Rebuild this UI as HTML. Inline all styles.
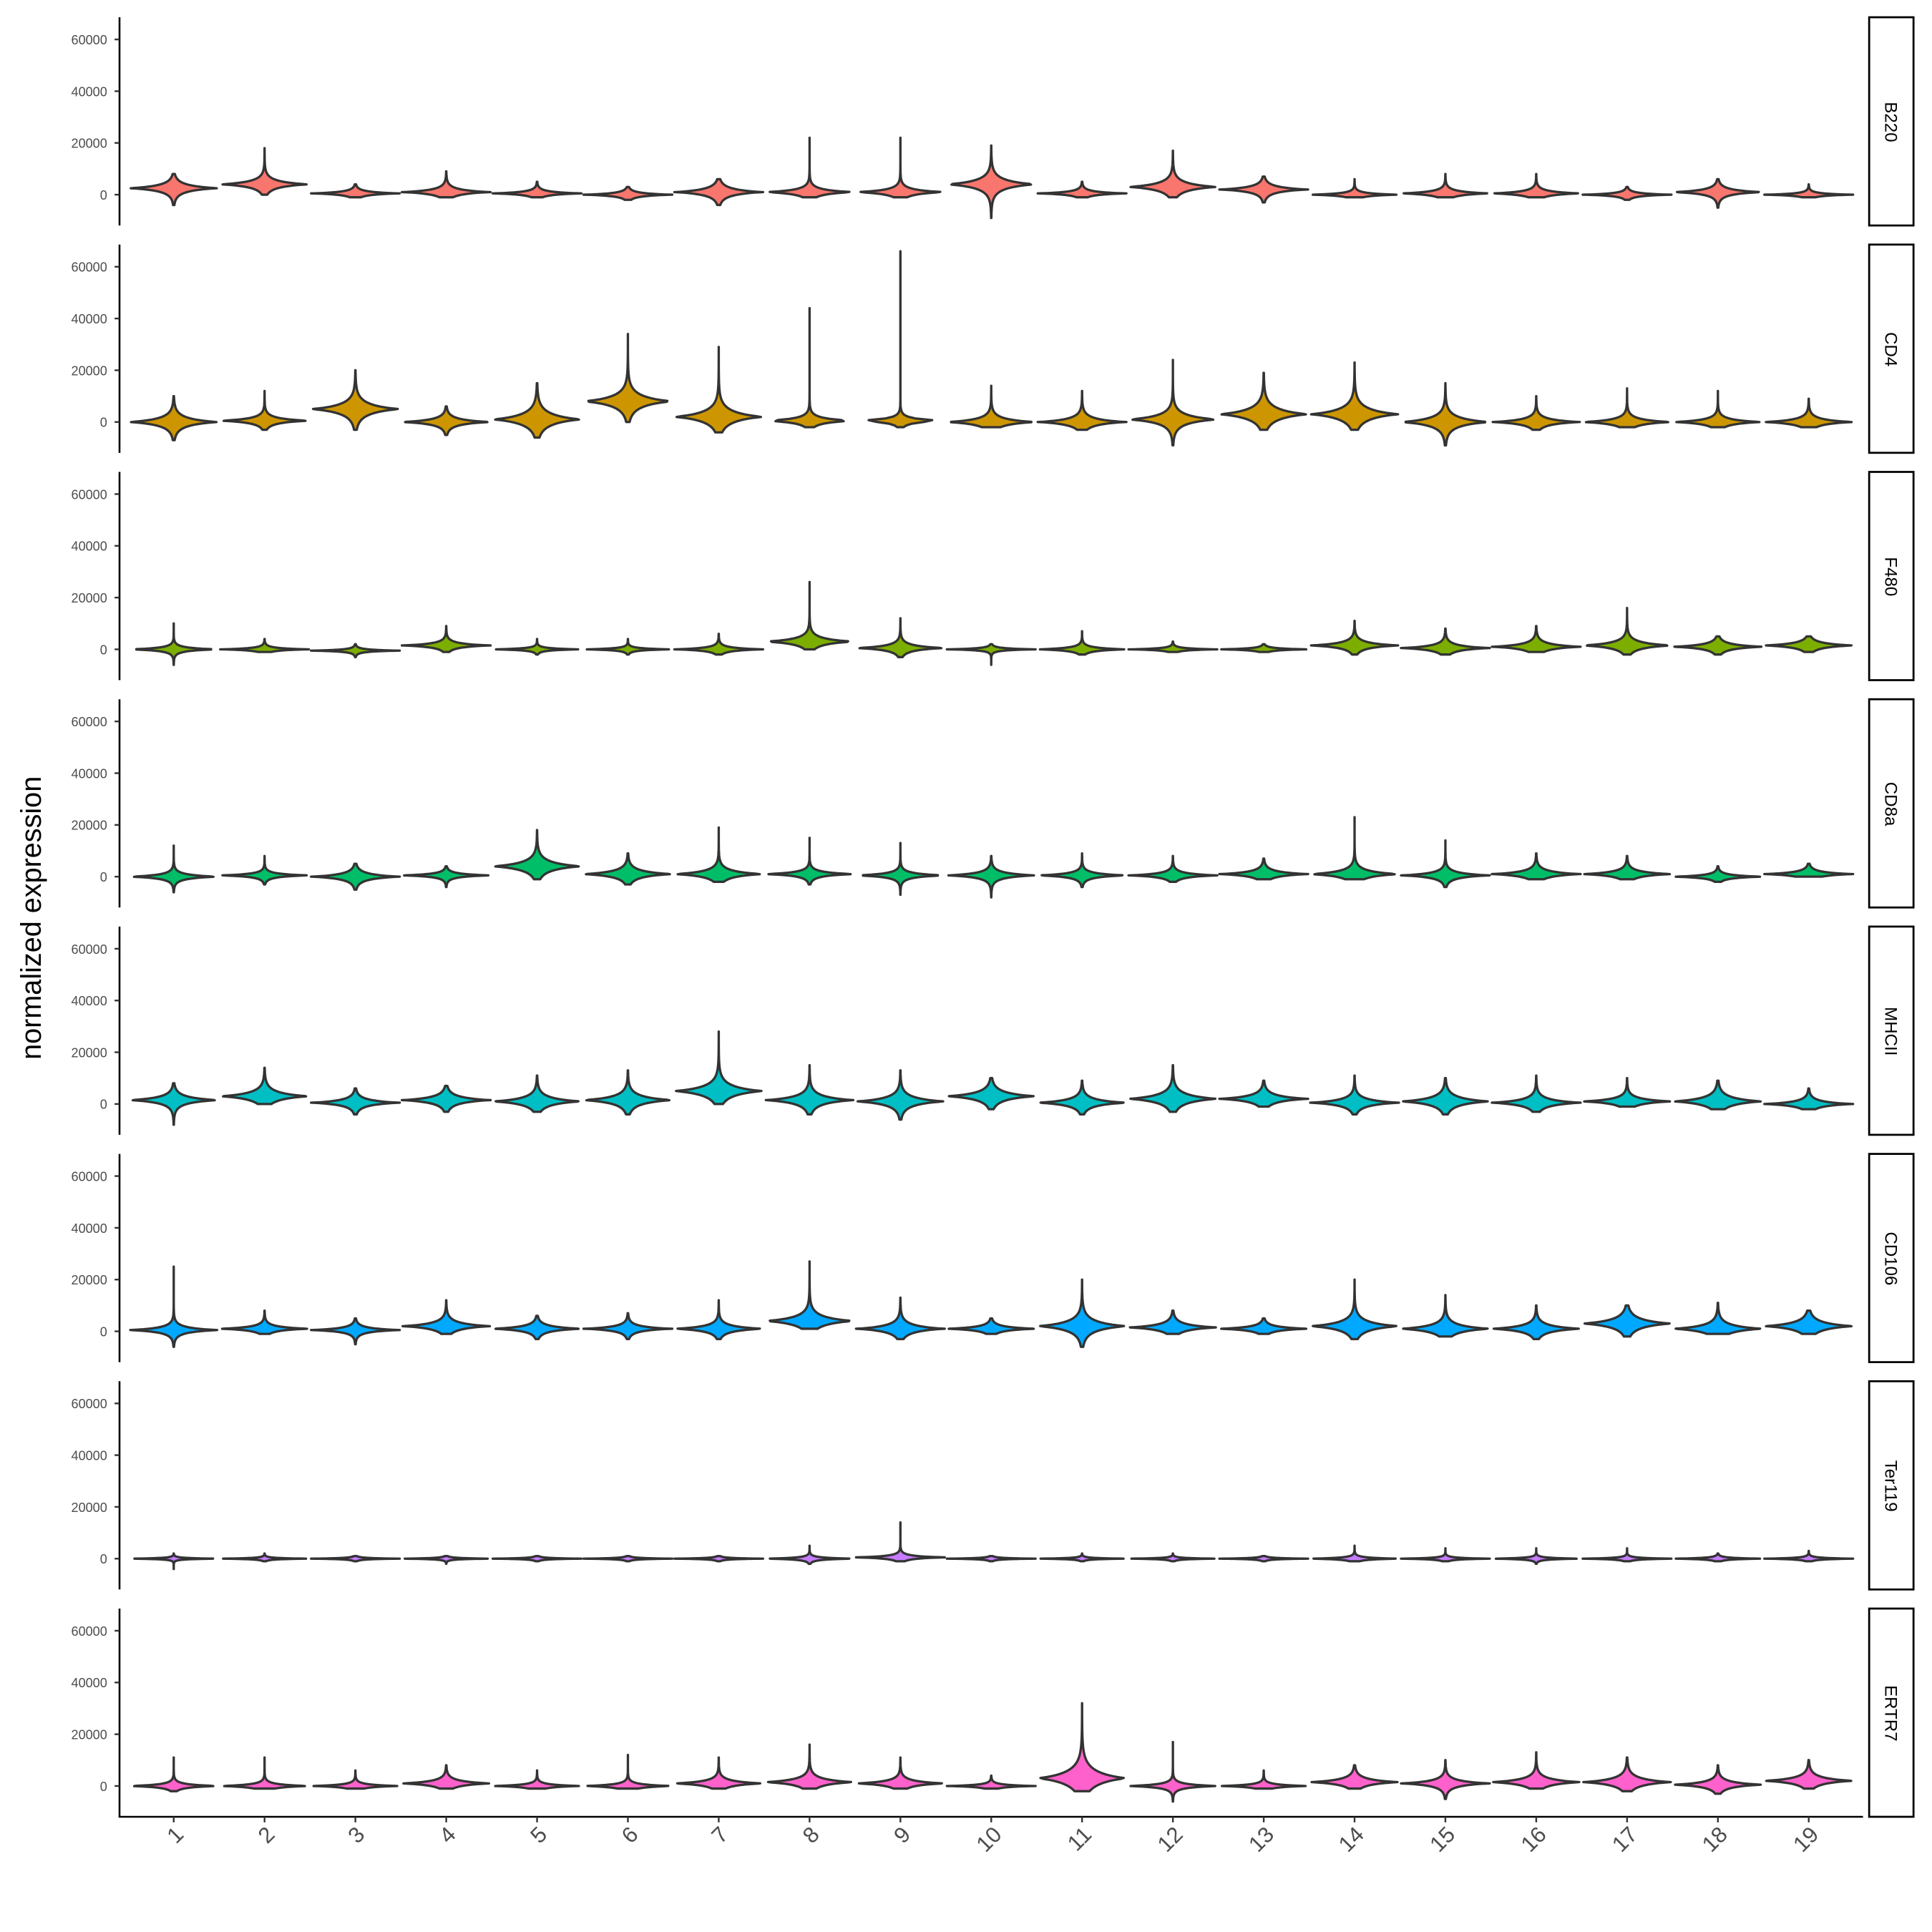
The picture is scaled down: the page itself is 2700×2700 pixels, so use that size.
<!DOCTYPE html>
<html><head><meta charset="utf-8"><style>html,body{margin:0;padding:0;background:#fff}svg{display:block}</style></head>
<body>
<svg id="s" xmlns="http://www.w3.org/2000/svg" width="2700" height="2700" viewBox="0 0 1568 1568" font-family="Liberation Sans, Arial, sans-serif">
<rect width="1568" height="1568" fill="#fff"/>
<g id="v"></g>
<g id="ax"></g>
<text transform="translate(33,745) rotate(-90)" text-anchor="middle" font-size="23" fill="#000">normalized expression</text>
<g font-size="14" fill="#000" text-anchor="middle">
<text transform="translate(1530,99) rotate(90)">B220</text>
<text transform="translate(1530,283.5) rotate(90)">CD4</text>
<text transform="translate(1530,468) rotate(90)">F480</text>
<text transform="translate(1530,652.5) rotate(90)">CD8a</text>
<text transform="translate(1530,837) rotate(90)">MHCII</text>
<text transform="translate(1530,1021.5) rotate(90)">CD106</text>
<text transform="translate(1530,1206) rotate(90)">Ter119</text>
<text transform="translate(1530,1390.5) rotate(90)">ERTR7</text>
</g>
<g font-size="10.5" fill="#4d4d4d" text-anchor="end">
<text x="87" y="36">60000</text><text x="87" y="78">40000</text><text x="87" y="120">20000</text><text x="87" y="162">0</text>
<text x="87" y="220.5">60000</text><text x="87" y="262.5">40000</text><text x="87" y="304.5">20000</text><text x="87" y="346.5">0</text>
<text x="87" y="405">60000</text><text x="87" y="447">40000</text><text x="87" y="489">20000</text><text x="87" y="531">0</text>
<text x="87" y="589.5">60000</text><text x="87" y="631.5">40000</text><text x="87" y="673.5">20000</text><text x="87" y="715.5">0</text>
<text x="87" y="774">60000</text><text x="87" y="816">40000</text><text x="87" y="858">20000</text><text x="87" y="900">0</text>
<text x="87" y="958.5">60000</text><text x="87" y="1000.5">40000</text><text x="87" y="1042.5">20000</text><text x="87" y="1084.5">0</text>
<text x="87" y="1143">60000</text><text x="87" y="1185">40000</text><text x="87" y="1227">20000</text><text x="87" y="1269">0</text>
<text x="87" y="1327.5">60000</text><text x="87" y="1369.5">40000</text><text x="87" y="1411.5">20000</text><text x="87" y="1453.5">0</text>
</g>
<g id="xl" font-size="18" fill="#4d4d4d" text-anchor="end">
<text transform="translate(150,1490) rotate(-45)">1</text>
<text transform="translate(224,1490) rotate(-45)">2</text>
<text transform="translate(297,1490) rotate(-45)">3</text>
<text transform="translate(371,1490) rotate(-45)">4</text>
<text transform="translate(445,1490) rotate(-45)">5</text>
<text transform="translate(519,1490) rotate(-45)">6</text>
<text transform="translate(592,1490) rotate(-45)">7</text>
<text transform="translate(666,1490) rotate(-45)">8</text>
<text transform="translate(740,1490) rotate(-45)">9</text>
<text transform="translate(814,1490) rotate(-45)">10</text>
<text transform="translate(887,1490) rotate(-45)">11</text>
<text transform="translate(961,1490) rotate(-45)">12</text>
<text transform="translate(1035,1490) rotate(-45)">13</text>
<text transform="translate(1108,1490) rotate(-45)">14</text>
<text transform="translate(1182,1490) rotate(-45)">15</text>
<text transform="translate(1256,1490) rotate(-45)">16</text>
<text transform="translate(1330,1490) rotate(-45)">17</text>
<text transform="translate(1403,1490) rotate(-45)">18</text>
<text transform="translate(1477,1490) rotate(-45)">19</text>
</g>
</svg>
<script>
var tops=[14,198.5,383,567.5,752,936.5,1121,1305.5];
var cols=["#F8766D","#CD9600","#7CAE00","#00BE67","#00BFC4","#00A9FF","#C77CFF","#FF61CC"];
var D=[
"2.5,8,-4,1.5;4,18,0,1.5;0.5,4,-1,0.8;1,9,-1,1.2;0.5,5,-1,0.8;0,3,-2,0.8;1,6,-4,1.5;1,22,-1,1.2;1,22,-1,1.2;4,19,-9,2;0.5,5,-1,0.8;3,17,-1,1.8;2,7,-3,1.3;0,6,-1,0.7;0.5,8,-1,1;0.5,8,-1,1;0,3,-2,0.7;1,6,-5,1.2;0,4,-1,0.6",
"0,10,-7,1.8;0.5,12,-3,1.2;5,20,-3,2.3;0,6,-5,1.3;1,15,-6,2.5;8,34,0,2.5;2,29,-4,2.5;0.5,44,-2,1.2;0.5,66,-2,1;0,14,-2,1.5;0,12,-3,1.5;1,24,-9,2;3,19,-3,2.5;3,23,-3,2.5;0,15,-9,2;0,10,-3,1.3;0,13,-2,1.3;0,12,-2,1.2;0,9,-2,1.3",
"0,10,-6,0.8;0,4,-1,0.6;-0.5,2,-3,0.5;1.5,9,-1,1;0,4,-2,0.5;0,4,-2,0.5;0,6,-2,0.8;3,26,0,1.5;0.5,12,-3,1.2;0,2,-6,0.5;0,7,-2,0.8;0,3,-1,0.5;0,2,-1,0.5;1.5,11,-2,1.3;0.5,8,-2,1.2;1,9,-1,1.3;1.5,16,-2,1.5;1,5,-2,1.2;1.5,5,-1,1.2",
"0,12,-6,1;0.5,8,-3,0.8;0,5,-5,1.3;0.5,4,-4,0.8;4,18,-1,2;1,9,-3,1.5;1,19,-2,1.5;1,15,-3,1;0.5,13,-7,1;0.5,8,-8,1.2;0.5,9,-4,1;0.5,8,-2,1;1,7,-1,1.2;1,23,-1,1.5;0.5,14,-4,1.2;1,9,-1,1.3;1,8,-1,1.2;0,4,-2,0.8;1,5,0,1",
"1.5,8,-8,1.5;3,14,0,1.8;0.5,6,-4,1.3;1.5,7,-3,1.5;1,11,-3,1.7;1.5,13,-4,1.8;5,28,0,2.3;1.5,15,-4,1.8;1,13,-6,1.8;3,10,-2,1.8;0.5,9,-4,1.5;2,15,-3,2;2,9,-1,1.5;0.5,11,-4,1.5;1,10,-4,1.8;0.5,11,-3,1.5;1,10,-1,1.3;1,9,-2,1.8;0,6,-2,1.2",
"0.5,25,-6,1.2;1,8,-1,1;0.5,5,-5,1;2,12,-1,1.5;1,6,-3,1.2;1,7,-3,1.1;1,12,-3,1.3;4,27,1,2;1,13,-3,1.6;1,5,-1,1;2,20,-6,2.2;1.5,8,-1,1.4;1,5,-1,1;2,20,-3,2;1,14,-2,1.7;1,10,-3,1.5;3,10,-2,2;1,11,-1,1.7;2,8,-1,1.8",
"0,2,-4,0.3;0,2,-1,0.3;0,1,-1,0.3;0,1,-2,0.3;0,1,-1,0.3;0,1,-1,0.3;0,1,-1,0.3;0,5,-2,0.5;0.5,14,-1,0.7;0,1,-1,0.3;0,2,-1,0.3;0,2,-1,0.3;0,1,-1,0.3;0,5,-1,0.5;0,4,-1,0.4;0,4,-2,0.4;0,4,-1,0.4;0,2,-1,0.4;0,3,-1,0.4",
"0,11,-2,0.8;0,11,-1,0.8;0,6,-1,0.7;1,8,-1,1.2;0,6,-1,0.7;0,12,-1,0.8;1,11,-1,1.2;1.5,16,-1,1.5;1,11,-1,1.2;0,4,-1,0.6;3,32,-2,3.2;0,17,-6,0.9;0,6,-1,0.7;1.5,8,-1,1.4;1,10,-5,1.3;1.5,13,-1,1.5;1.5,11,-2,1.7;0.5,8,-3,1.3;2,10,-1,1.5"
];
var out="",ax="";
function X(i){return 141+i*73.72;}
for(var p=0;p<8;p++){
 var t=tops[p];
 function Y(v){return t+18+(60-v)*2.1;}
 var arr=D[p].split(";");
 for(var i=0;i<19;i++){
  var a=arr[i].split(",").map(Number),c=a[0],mx=a[1],mn=a[2],s=a[3]*0.8,W=36;
  var cx=X(i),R=[],L=[],N=100;
  for(var k=0;k<=N;k++){
   var v=mx-(mx-mn)*k/N;
   var w=W*Math.exp(-Math.pow(Math.abs(v-c)/s,0.85));
   w=Math.max(w,0.01);
   R.push((cx+w).toFixed(2)+","+Y(v).toFixed(2));
   L.unshift((cx-w).toFixed(2)+","+Y(v).toFixed(2));
  }
  out+='<path d="M'+R.join("L")+"L"+L.join("L")+'Z" fill="'+cols[p]+'" stroke="#333" stroke-width="1.9" stroke-linejoin="round"/>';
 }
 ax+='<line x1="97" y1="'+t+'" x2="97" y2="'+(t+169)+'" stroke="#000" stroke-width="1.5"/>';
 for(var j=0;j<4;j++){var yy=t+18+j*42;ax+='<line x1="93" y1="'+yy+'" x2="97" y2="'+yy+'" stroke="#333" stroke-width="1.4"/>';}
 ax+='<rect x="1517" y="'+t+'" width="36" height="169" fill="#fff" stroke="#000" stroke-width="1.6"/>';
}
ax+='<line x1="96.25" y1="1474.5" x2="1512" y2="1474.5" stroke="#000" stroke-width="1.5"/>';
for(var i=0;i<19;i++){ax+='<line x1="'+X(i)+'" y1="1474.5" x2="'+X(i)+'" y2="1479" stroke="#333" stroke-width="1.4"/>';}
document.getElementById("v").innerHTML=out;
document.getElementById("ax").innerHTML=ax;
</script>
</body></html>
